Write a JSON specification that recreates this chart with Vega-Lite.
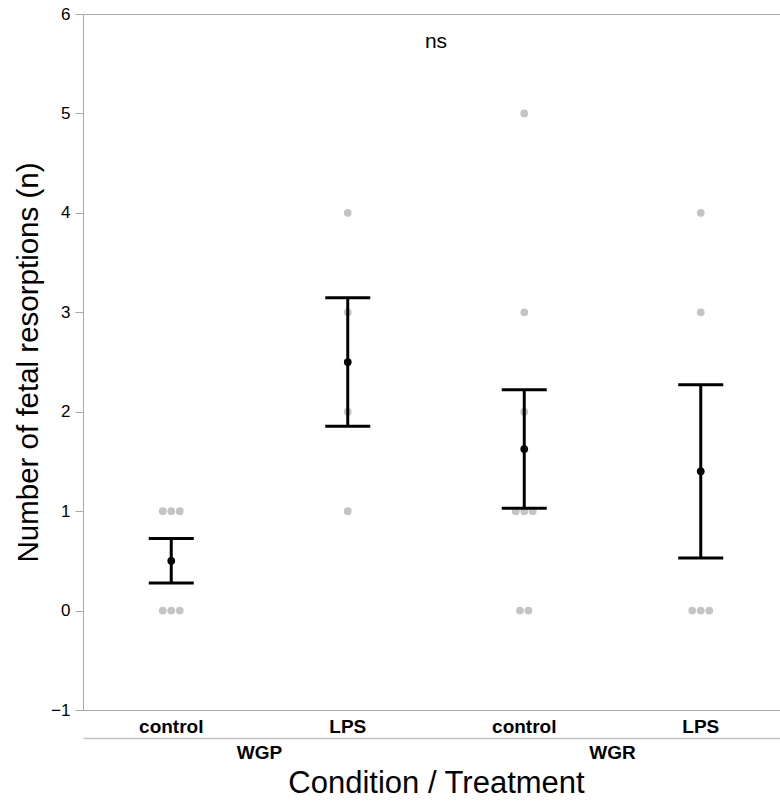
{
  "$schema": "https://vega.github.io/schema/vega-lite/v6.json",
  "width": 706,
  "height": 696,
  "autosize": "none",
  "padding": {"left": 83, "top": 14, "right": 0, "bottom": 91},
  "background": "white",
  "config": {
    "font": "Liberation Sans",
    "view": {"stroke": "#aaaaaa", "strokeWidth": 1},
    "axis": {"grid": false}
  },
  "data": {
    "values": [
      {"condition": "WGP", "treatment": "control", "group": "WGP control", "resorptions": 1, "slot": -1},
      {"condition": "WGP", "treatment": "control", "group": "WGP control", "resorptions": 1, "slot": 0},
      {"condition": "WGP", "treatment": "control", "group": "WGP control", "resorptions": 1, "slot": 1},
      {"condition": "WGP", "treatment": "control", "group": "WGP control", "resorptions": 0, "slot": -1},
      {"condition": "WGP", "treatment": "control", "group": "WGP control", "resorptions": 0, "slot": 0},
      {"condition": "WGP", "treatment": "control", "group": "WGP control", "resorptions": 0, "slot": 1},
      {"condition": "WGP", "treatment": "LPS", "group": "WGP LPS", "resorptions": 4, "slot": 0},
      {"condition": "WGP", "treatment": "LPS", "group": "WGP LPS", "resorptions": 3, "slot": 0},
      {"condition": "WGP", "treatment": "LPS", "group": "WGP LPS", "resorptions": 2, "slot": 0},
      {"condition": "WGP", "treatment": "LPS", "group": "WGP LPS", "resorptions": 1, "slot": 0},
      {"condition": "WGR", "treatment": "control", "group": "WGR control", "resorptions": 5, "slot": 0},
      {"condition": "WGR", "treatment": "control", "group": "WGR control", "resorptions": 3, "slot": 0},
      {"condition": "WGR", "treatment": "control", "group": "WGR control", "resorptions": 2, "slot": 0},
      {"condition": "WGR", "treatment": "control", "group": "WGR control", "resorptions": 1, "slot": -1},
      {"condition": "WGR", "treatment": "control", "group": "WGR control", "resorptions": 1, "slot": 0},
      {"condition": "WGR", "treatment": "control", "group": "WGR control", "resorptions": 1, "slot": 1},
      {"condition": "WGR", "treatment": "control", "group": "WGR control", "resorptions": 0, "slot": -0.5},
      {"condition": "WGR", "treatment": "control", "group": "WGR control", "resorptions": 0, "slot": 0.5},
      {"condition": "WGR", "treatment": "LPS", "group": "WGR LPS", "resorptions": 4, "slot": 0},
      {"condition": "WGR", "treatment": "LPS", "group": "WGR LPS", "resorptions": 3, "slot": 0},
      {"condition": "WGR", "treatment": "LPS", "group": "WGR LPS", "resorptions": 0, "slot": -1},
      {"condition": "WGR", "treatment": "LPS", "group": "WGR LPS", "resorptions": 0, "slot": 0},
      {"condition": "WGR", "treatment": "LPS", "group": "WGR LPS", "resorptions": 0, "slot": 1}
    ]
  },
  "layer": [
    {
      "layer": [
        {
          "mark": {"type": "circle", "size": 60, "color": "#c4c4c4", "opacity": 1},
          "encoding": {
            "x": {
              "field": "group", "type": "nominal",
              "scale": {"type": "band", "domain": ["WGP control", "WGP LPS", "WGR control", "WGR LPS"], "paddingInner": 0, "paddingOuter": 0},
              "axis": {
                "title": null, "labelExpr": "split(datum.label, ' ')[1]", "labelAngle": 0,
                "ticks": false, "domain": true, "domainColor": "#aaaaaa",
                "labelFontWeight": "bold", "labelFontSize": 19, "labelColor": "black",
                "labelPadding": 7, "labelBaseline": "top"
              }
            },
            "xOffset": {"field": "slot", "type": "quantitative", "scale": {"domain": [-1, 1], "range": [79.75, 96.75]}},
            "y": {
              "field": "resorptions", "type": "quantitative",
              "title": "Number of fetal resorptions (n)",
              "scale": {"domain": [-1, 6], "nice": false, "zero": false},
              "axis": {
                "values": [-1, 0, 1, 2, 3, 4, 5, 6], "format": "d",
                "titleFontSize": 29.5, "titleFontWeight": "normal",
                "titleColor": "black", "titlePadding": 7,
                "labelFontSize": 17, "labelColor": "black", "labelPadding": 5,
                "tickSize": 8, "tickColor": "#aaaaaa", "domainColor": "#aaaaaa"
              }
            }
          }
        },
        {
          "mark": {
            "type": "errorbar", "extent": "stderr", "color": "black",
            "ticks": {"size": 45, "thickness": 3, "color": "black", "opacity": 1},
            "rule": {"strokeWidth": 3, "color": "black", "opacity": 1}
          },
          "encoding": {
            "x": {"field": "group", "type": "nominal"},
            "y": {"field": "resorptions", "type": "quantitative", "title": "Number of fetal resorptions (n)"}
          }
        },
        {
          "mark": {"type": "point", "filled": true, "color": "black", "size": 60, "opacity": 1},
          "encoding": {
            "x": {"field": "group", "type": "nominal"},
            "y": {"field": "resorptions", "type": "quantitative", "aggregate": "mean", "title": "Number of fetal resorptions (n)"}
          }
        }
      ]
    },
    {
      "data": {"values": [{"annotation": "ns"}]},
      "mark": {"type": "text", "fontSize": 21, "baseline": "middle", "align": "center", "color": "black"},
      "encoding": {
        "text": {"field": "annotation", "type": "nominal"},
        "x": {
          "datum": "WGR", "type": "nominal", "bandPosition": 0,
          "scale": {"type": "band", "domain": ["WGP", "WGR"], "paddingInner": 0, "paddingOuter": 0},
          "axis": {
            "orient": "bottom", "offset": 28, "title": "Condition / Treatment",
            "titleFontSize": 31, "titleFontWeight": "normal", "titleColor": "black", "titlePadding": 6,
            "labelFontWeight": "bold", "labelFontSize": 19, "labelColor": "black", "labelPadding": 5,
            "labelAngle": 0, "ticks": false, "domainColor": "#c0c0c0", "domainWidth": 1.5
          }
        },
        "y": {"datum": 5.72, "type": "quantitative", "title": "Number of fetal resorptions (n)"}
      }
    }
  ],
  "resolve": {"scale": {"x": "independent"}, "axis": {"x": "independent"}}
}
